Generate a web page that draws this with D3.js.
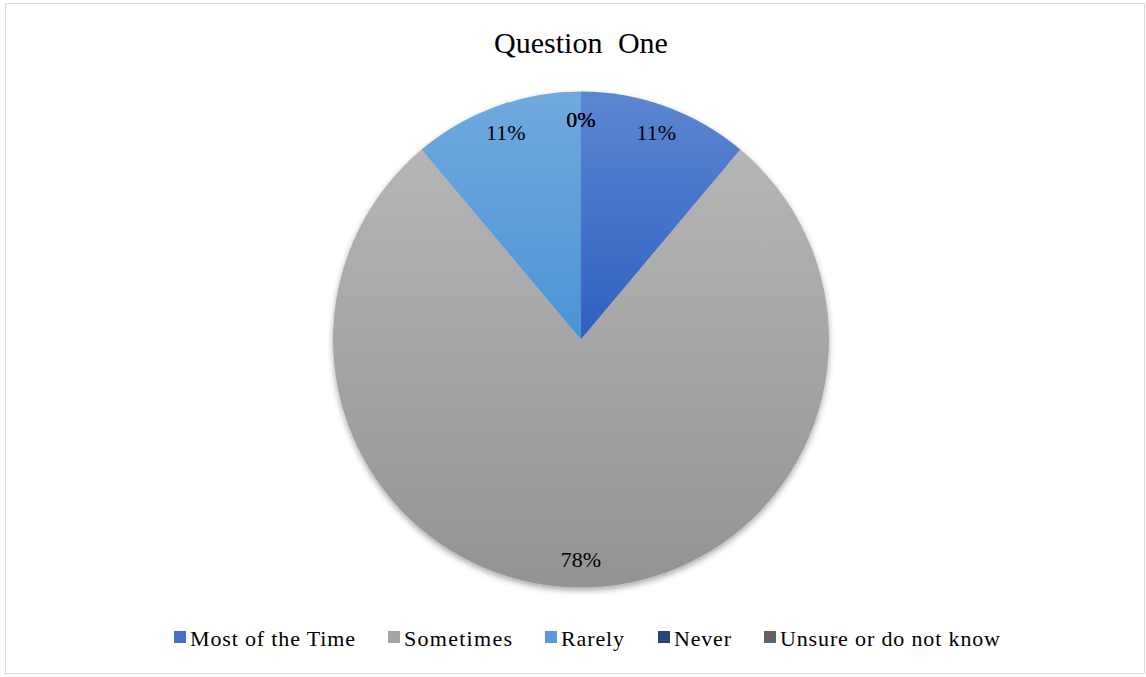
<!DOCTYPE html>
<html><head><meta charset="utf-8">
<script src="https://cdn.jsdelivr.net/npm/d3@7"></script>
<style>body{margin:0;background:#fff}</style>
</head><body>
<svg id="c" width="1146" height="677"></svg>
<script>
const categories = ["Most of the Time", "Sometimes", "Rarely", "Never", "Unsure or do not know"];
const values = [1, 7, 1, 0, 0];
const labels = ["11%", "78%", "11%", "0%", "0%"];
const colors = ["#4472c4", "#a5a5a5", "#5b9bd5", "#264478", "#636363"];
const colorsTop = ["#5d86d2", "#b5b5b5", "#70a9de", "#3a5a94", "#7a7a7a"];
const colorsBottom = ["#3060c2", "#939393", "#4a93d6", "#1c3a70", "#555555"];
const title = "Question One";
const FONT = '"Liberation Serif"';

const svg = d3.select("#c").style("display", "block");
svg.append("rect").attr("x", 5.5).attr("y", 3.5).attr("width", 1139).attr("height", 670)
  .attr("fill", "#fff").attr("stroke", "#d9d9d9").attr("stroke-width", 1);

svg.append("text").attr("x", 581).attr("y", 53).attr("text-anchor", "middle")
  .style("font-family", FONT).style("font-size", "30px").style("word-spacing", "8px")
  .attr("fill", "#000").text(title);

const defs = svg.append("defs");
categories.forEach((c, i) => {
  const g = defs.append("linearGradient").attr("id", "g" + i)
    .attr("x1", 0).attr("y1", 0).attr("x2", 0).attr("y2", 1);
  g.append("stop").attr("offset", "0%").attr("stop-color", colorsTop[i]);
  g.append("stop").attr("offset", "100%").attr("stop-color", colorsBottom[i]);
});
const f = defs.append("filter").attr("id", "sh").attr("x", "-10%").attr("y", "-10%").attr("width", "120%").attr("height", "125%");
f.append("feGaussianBlur").attr("in", "SourceAlpha").attr("stdDeviation", 3);
f.append("feOffset").attr("dx", 0).attr("dy", 3).attr("result", "b");
f.append("feComponentTransfer").append("feFuncA").attr("type", "linear").attr("slope", 0.35);
const fm = f.append("feMerge");
fm.append("feMergeNode");
fm.append("feMergeNode").attr("in", "SourceGraphic");

const cx = 581, cy = 339.5, r = 248;
const pie = d3.pie().sort(null).value(d => d)(values);
const arc = d3.arc().innerRadius(0).outerRadius(r);
const g = svg.append("g").attr("transform", `translate(${cx},${cy})`).attr("filter", "url(#sh)");
g.selectAll("path").data(pie).join("path")
  .attr("d", arc).attr("fill", (d, i) => `url(#g${i})`);

const lab = d3.arc().innerRadius(220).outerRadius(220);
const lg = svg.append("g").attr("transform", `translate(${cx},${cy})`);
lg.selectAll("text").data(pie).join("text")
  .attr("transform", d => `translate(${lab.centroid(d)})`)
  .attr("text-anchor", "middle").attr("dy", "0.35em")
  .style("font-family", FONT).style("font-size", "22px")
  .attr("fill", "#000").text((d, i) => labels[i]);

// legend
const legX = [174, 388, 545, 658, 764];
const legW = [165, 108, 63, 57, 220];
const leg = svg.append("g");
categories.forEach((c, i) => {
  leg.append("rect").attr("x", legX[i]).attr("y", 631).attr("width", 12).attr("height", 12)
    .attr("fill", colors[i]);
  leg.append("text").attr("x", legX[i] + 16).attr("y", 646)
    .style("font-family", FONT).style("font-size", "22px")
    .attr("textLength", legW[i]).attr("lengthAdjust", "spacing")
    .attr("fill", "#000").text(c);
});
</script>
</body></html>
